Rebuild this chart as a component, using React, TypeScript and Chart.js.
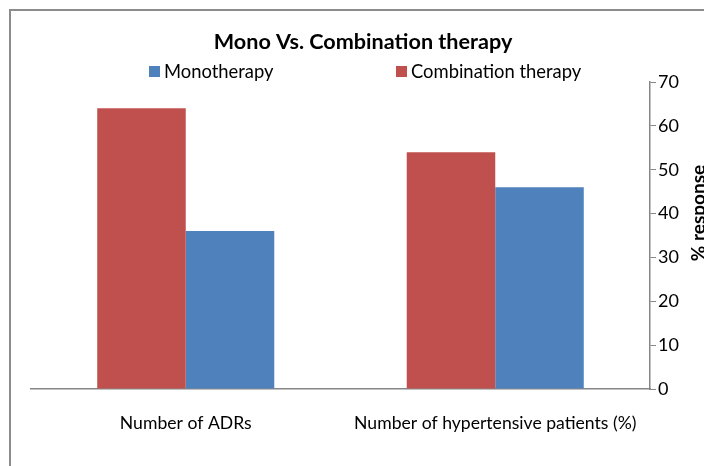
import React, { useEffect, useRef } from "react";
import { Chart, registerables } from "chart.js";

Chart.register(...registerables);

const titleText = "Mono Vs. Combination therapy";
const categories = ["Number of ADRs", "Number of hypertensive patients (%)"];
const combinationValues = [64, 54];
const monotherapyValues = [36, 46];
const yTicks = [0, 10, 20, 30, 40, 50, 60, 70];
const yAxisTitle = "% response";

const RED = "#C0504D";
const BLUE = "#4F81BD";
const AXIS = "#868686";
const FONT = "Lato, 'Open Sans', sans-serif";

const overlayPlugin = {
  id: "overlay",
  afterDraw(chart: any) {
    const ctx = chart.ctx;
    ctx.save();
    // title
    ctx.fillStyle = "#000";
    ctx.font = `bold 21.6px ${FONT}`;
    ctx.textAlign = "center";
    ctx.textBaseline = "middle";
    ctx.fillText(titleText, 363, 42);
    // legend (Monotherapy first)
    const items = [
      { ds: chart.data.datasets[1], x: 149 },
      { ds: chart.data.datasets[0], x: 396 },
    ];
    ctx.font = `18.4px ${FONT}`;
    ctx.textAlign = "left";
    items.forEach((it) => {
      ctx.fillStyle = it.ds.backgroundColor;
      ctx.fillRect(it.x, 66, 11, 11);
      ctx.fillStyle = "#000";
      ctx.fillText(it.ds.label, it.x + 15, 72);
    });
    // y axis title, reading bottom to top
    ctx.translate(705, 213);
    ctx.rotate(-Math.PI / 2);
    ctx.font = `bold 19px ${FONT}`;
    ctx.textAlign = "center";
    ctx.textBaseline = "alphabetic";
    ctx.fillText(yAxisTitle, 0, 0);
    ctx.restore();
  },
};

export default function App() {
  const ref = useRef<HTMLCanvasElement | null>(null);
  useEffect(() => {
    if (!ref.current) return;
    const chart = new Chart(ref.current, {
      type: "bar",
      data: {
        labels: categories,
        datasets: [
          {
            label: "Combination therapy",
            data: combinationValues,
            backgroundColor: RED,
            borderWidth: 0,
          },
          {
            label: "Monotherapy",
            data: monotherapyValues,
            backgroundColor: BLUE,
            borderWidth: 0,
          },
        ],
      },
      options: {
        animation: false,
        responsive: true,
        maintainAspectRatio: false,
        layout: { padding: { left: 31, top: 82, right: 0, bottom: 0 } },
        plugins: {
          legend: { display: false },
          title: { display: false },
          tooltip: { enabled: false },
        },
        datasets: {
          bar: { categoryPercentage: 0.572, barPercentage: 1 },
        },
        scales: {
          x: {
            grid: { display: false },
            border: { display: true, color: AXIS, width: 1.5 },
            ticks: {
              color: "#000",
              font: { family: FONT, size: 17.6 },
              padding: 16,
              maxRotation: 0,
              autoSkip: false,
            },
            afterFit: (scale: any) => {
              scale.height = 77;
            },
          },
          y: {
            position: "right",
            min: 0,
            max: 70,
            afterBuildTicks: (scale: any) => {
              scale.ticks = yTicks.map((v) => ({ value: v }));
            },
            grid: {
              display: true,
              drawOnChartArea: false,
              drawTicks: true,
              tickLength: 6,
              color: AXIS,
            },
            border: { display: true, color: AXIS, width: 1.5 },
            ticks: {
              color: "#000",
              font: { family: FONT, size: 18 },
              padding: 2,
            },
            afterFit: (scale: any) => {
              scale.width = 54;
            },
          },
        },
      },
      plugins: [overlayPlugin],
    });
    return () => chart.destroy();
  }, []);

  return (
    <div style={{ position: "fixed", left: 0, top: 0, width: 704, height: 466, background: "#fff", overflow: "hidden" }}>
      <div
        style={{
          position: "absolute",
          left: 9,
          top: 9,
          width: 800,
          height: 600,
          borderLeft: "2px solid #8c8c8c",
          borderTop: "2px solid #8c8c8c",
        }}
      />
      <canvas ref={ref} style={{ position: "absolute", left: 0, top: 0 }} />
    </div>
  );
}
